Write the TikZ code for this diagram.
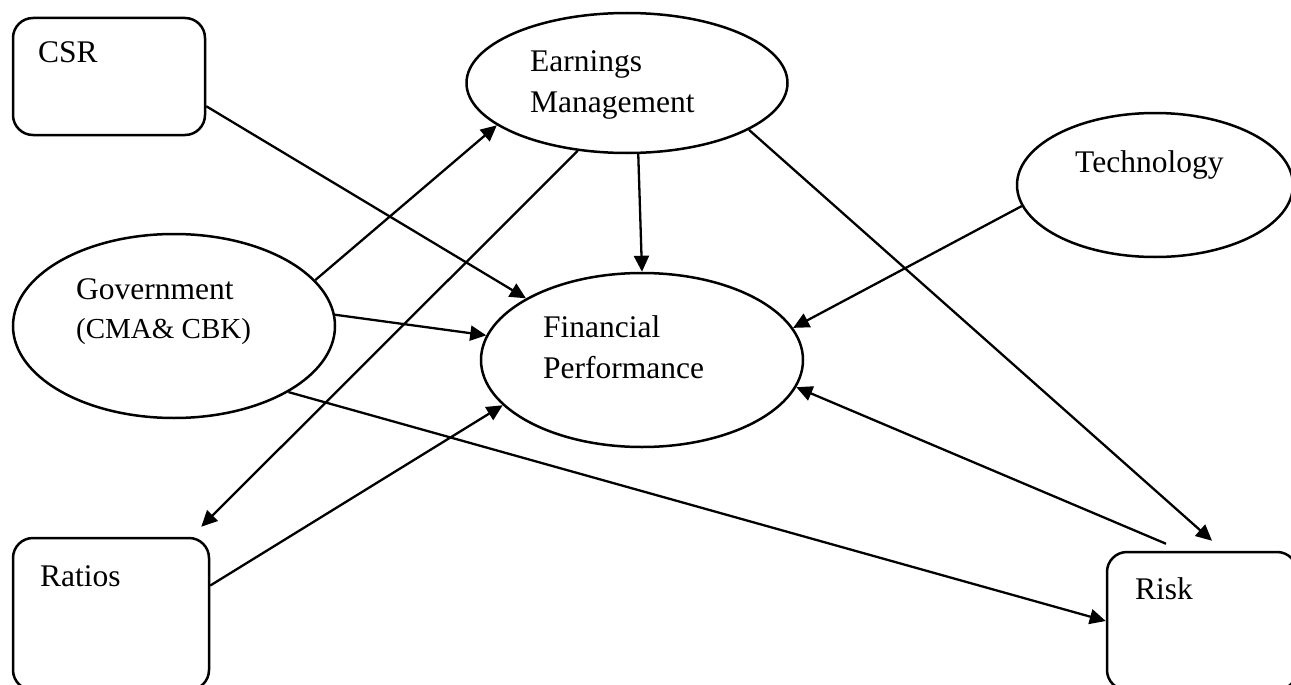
\documentclass[tikz,border=0pt]{standalone}
\usepackage{fontspec}
\setmainfont{Liberation Serif}
\usetikzlibrary{shapes.geometric,arrows.meta}
\begin{document}
\begin{tikzpicture}[x=1pt,y=-1pt,
  ell/.style={draw,ellipse,line width=2.5pt,inner sep=0pt},
  rbox/.style={draw,rectangle,rounded corners=20pt,line width=2.5pt,inner sep=0pt},
  lbl/.style={anchor=base west,inner sep=0pt,font=\fontsize{31.5}{38}\selectfont},
  arr/.style={line width=2.3pt,-{Triangle[length=16pt,width=15pt]}}]
\useasboundingbox (0,0) rectangle (1291,685);
% shapes
\node[ell,minimum width=321pt,minimum height=140pt] (em) at (627,83) {};
\node[ell,minimum width=276pt,minimum height=144pt] (tech) at (1155,185) {};
\node[ell,minimum width=322pt,minimum height=184pt] (gov) at (174,326) {};
\node[ell,minimum width=322pt,minimum height=174pt] (fp) at (642,360) {};
\node[rbox,minimum width=192pt,minimum height=117pt] (csr) at (109,76.5) {};
\node[rbox,minimum width=196pt,minimum height=152pt] (ratios) at (111,614) {};
\node[rbox,minimum width=190pt,minimum height=138pt] (risk) at (1202,621) {};
% labels
\node[lbl] (csrt) at (38,63) {CSR};
\node[lbl] (emt1) at (530,72) {Earnings};
\node[lbl] (emt2) at (530,112) {Management};
\node[lbl] (techt) at (1075,172) {Technology};
\node[lbl] (govt1) at (76,299) {Government};
\node[lbl,font=\fontsize{29}{35}\selectfont] (govt2) at (76,338) {(CMA\& CBK)};
\node[lbl] (fpt1) at (543,337) {Financial};
\node[lbl] (fpt2) at (543,378) {Performance};
\node[lbl] (ratt) at (40,586) {Ratios};
\node[lbl] (riskt) at (1135,599) {Risk};
% connectors
\draw[arr] (csr.-17) -- (fp.152);
\draw[arr] (gov.18.6) -- (em.-162);
\draw[arr] (em.-126) -- ([xshift=-9pt,yshift=10pt]ratios.north east);
\draw[arr] (em.-81) -- (fp.north);
\draw[arr] (em.-21.4) -- ([xshift=10pt,yshift=10pt]risk.north);
\draw[arr] (tech.-171.3) -- (fp.12.5);
\draw[arr] (gov.4.6) -- (fp.171.6);
\draw[arr] (gov.-30.8) -- (risk.west);
\draw[arr] (ratios.16.5) -- (fp.-162.3);
\draw[arr] ([xshift=-36pt,yshift=7pt]risk.north) -- (fp.-10.3);
\end{tikzpicture}
\end{document}
